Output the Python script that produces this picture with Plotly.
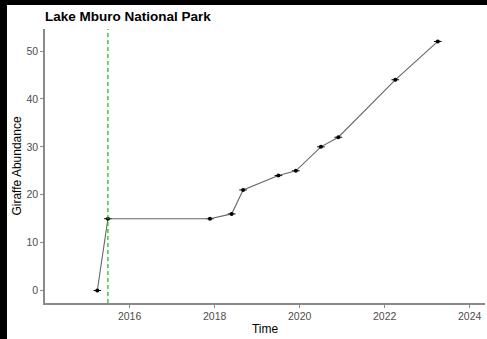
import plotly.graph_objects as go

# Data
years = [2015.24, 2015.49, 2017.89, 2018.40, 2018.67, 2019.50, 2019.91, 2020.50, 2020.91, 2022.25, 2023.25]
abundance = [0, 15, 15, 16, 21, 24, 25, 30, 32, 44, 52]
event_year = 2015.49
x_ticks = [2016, 2018, 2020, 2022, 2024]
y_ticks = [0, 10, 20, 30, 40, 50]

W, H = 487, 339
ml, mr, mt, mb = 45, 2, 29, 36
pw, ph = W - ml - mr, H - mt - mb

fig = go.Figure()
fig.add_trace(go.Scatter(
    x=years, y=abundance, mode="lines+markers",
    line=dict(color="#666666", width=1.1),
    marker=dict(color="black", size=4),
    error_x=dict(type="constant", value=0.09, thickness=1, width=0, color="black"),
    showlegend=False, hoverinfo="skip",
))

fig.add_shape(type="line", xref="x", yref="paper", x0=event_year, x1=event_year, y0=0, y1=1,
              line=dict(color="#00C800", width=1.2, dash="4px,3px"))

# black screenshot border (left and top strips)
fig.add_shape(type="rect", xref="paper", yref="paper", x0=-ml / pw, x1=(7 - ml) / pw,
              y0=-mb / ph, y1=1 + mt / ph, fillcolor="black", line=dict(width=0), layer="above")
fig.add_shape(type="rect", xref="paper", yref="paper", x0=-ml / pw, x1=1 + mr / pw,
              y0=1 + (mt - 5) / ph, y1=1 + mt / ph, fillcolor="black", line=dict(width=0), layer="above")

axis_common = dict(
    showgrid=False, zeroline=False, showline=True, linecolor="#8a8a8a", linewidth=1.5,
    ticks="outside", ticklen=3, tickwidth=1, tickcolor="#8a8a8a",
    tickfont=dict(family="Liberation Sans, Arial, sans-serif", size=10.5, color="#4d4d4d"),
)

fig.update_layout(
    width=W, height=H,
    margin=dict(l=ml, r=mr, t=mt, b=mb),
    paper_bgcolor="white", plot_bgcolor="white",
    font=dict(family="Liberation Sans, Arial, sans-serif"),
    title=dict(text="<b>Lake Mburo National Park</b>", x=ml / W, xanchor="left", xref="container",
               y=1 - 16 / H, yanchor="middle", yref="container",
               font=dict(size=13.5, color="black")),
    xaxis=dict(range=[2014.01, 2024.36], tickvals=x_ticks, ticktext=[str(t) for t in x_ticks],
               title=dict(text="Time", font=dict(size=12, color="black"), standoff=3), **axis_common),
    yaxis=dict(range=[-2.6, 54.6], tickvals=y_ticks, ticktext=[str(t) for t in y_ticks],
               title=dict(text="Giraffe Abundance", font=dict(size=12, color="black"), standoff=2),
               **axis_common),
)

fig.write_html("out.html", config={"displayModeBar": False},
               post_script="document.body.style.margin='0px';document.body.style.overflow='hidden';")
